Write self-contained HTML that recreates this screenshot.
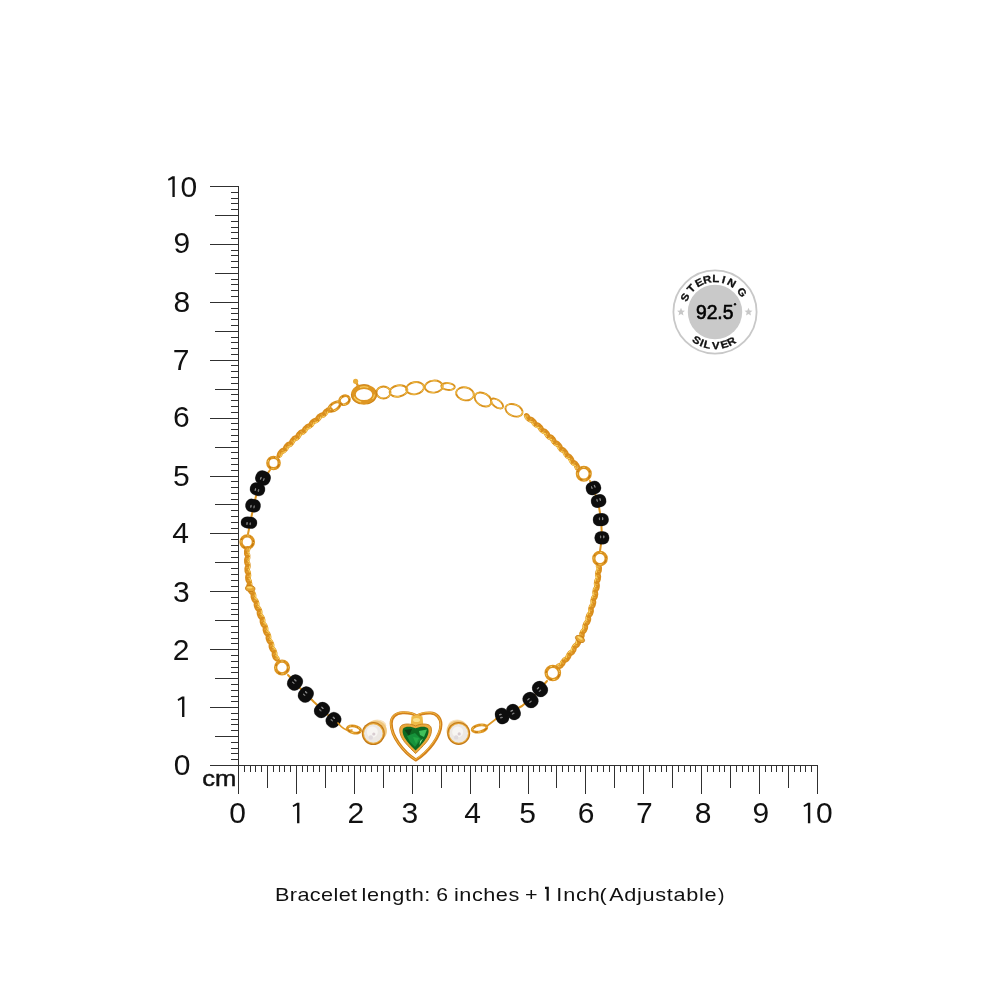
<!DOCTYPE html>
<html><head><meta charset="utf-8"><style>
html,body{margin:0;padding:0;background:#fff;}
body{width:1000px;height:1000px;overflow:hidden;font-family:"Liberation Sans",sans-serif;}
svg{display:block;will-change:transform;}
</style></head><body>
<svg width="1000" height="1000" viewBox="0 0 1000 1000">
<rect width="1000" height="1000" fill="#fff"/>
<g stroke="#303030" stroke-width="1" fill="none" shape-rendering="crispEdges"><line x1="238.5" y1="186.00" x2="238.5" y2="794.2" /><line x1="210" y1="765.5" x2="818.00" y2="765.5" /><line x1="210" y1="765.50" x2="238.5" y2="765.50" /><line x1="238.50" y1="765.5" x2="238.50" y2="794.2" /><line x1="231.2" y1="759.71" x2="238.5" y2="759.71" /><line x1="244.29" y1="765.5" x2="244.29" y2="772.1" /><line x1="231.2" y1="753.92" x2="238.5" y2="753.92" /><line x1="250.08" y1="765.5" x2="250.08" y2="772.1" /><line x1="231.2" y1="748.13" x2="238.5" y2="748.13" /><line x1="255.87" y1="765.5" x2="255.87" y2="772.1" /><line x1="231.2" y1="742.34" x2="238.5" y2="742.34" /><line x1="261.66" y1="765.5" x2="261.66" y2="772.1" /><line x1="215.3" y1="736.55" x2="238.5" y2="736.55" /><line x1="267.45" y1="765.5" x2="267.45" y2="788" /><line x1="231.2" y1="730.76" x2="238.5" y2="730.76" /><line x1="273.24" y1="765.5" x2="273.24" y2="772.1" /><line x1="231.2" y1="724.97" x2="238.5" y2="724.97" /><line x1="279.03" y1="765.5" x2="279.03" y2="772.1" /><line x1="231.2" y1="719.18" x2="238.5" y2="719.18" /><line x1="284.82" y1="765.5" x2="284.82" y2="772.1" /><line x1="231.2" y1="713.39" x2="238.5" y2="713.39" /><line x1="290.61" y1="765.5" x2="290.61" y2="772.1" /><line x1="210" y1="707.60" x2="238.5" y2="707.60" /><line x1="296.40" y1="765.5" x2="296.40" y2="794.2" /><line x1="231.2" y1="701.81" x2="238.5" y2="701.81" /><line x1="302.19" y1="765.5" x2="302.19" y2="772.1" /><line x1="231.2" y1="696.02" x2="238.5" y2="696.02" /><line x1="307.98" y1="765.5" x2="307.98" y2="772.1" /><line x1="231.2" y1="690.23" x2="238.5" y2="690.23" /><line x1="313.77" y1="765.5" x2="313.77" y2="772.1" /><line x1="231.2" y1="684.44" x2="238.5" y2="684.44" /><line x1="319.56" y1="765.5" x2="319.56" y2="772.1" /><line x1="215.3" y1="678.65" x2="238.5" y2="678.65" /><line x1="325.35" y1="765.5" x2="325.35" y2="788" /><line x1="231.2" y1="672.86" x2="238.5" y2="672.86" /><line x1="331.14" y1="765.5" x2="331.14" y2="772.1" /><line x1="231.2" y1="667.07" x2="238.5" y2="667.07" /><line x1="336.93" y1="765.5" x2="336.93" y2="772.1" /><line x1="231.2" y1="661.28" x2="238.5" y2="661.28" /><line x1="342.72" y1="765.5" x2="342.72" y2="772.1" /><line x1="231.2" y1="655.49" x2="238.5" y2="655.49" /><line x1="348.51" y1="765.5" x2="348.51" y2="772.1" /><line x1="210" y1="649.70" x2="238.5" y2="649.70" /><line x1="354.30" y1="765.5" x2="354.30" y2="794.2" /><line x1="231.2" y1="643.91" x2="238.5" y2="643.91" /><line x1="360.09" y1="765.5" x2="360.09" y2="772.1" /><line x1="231.2" y1="638.12" x2="238.5" y2="638.12" /><line x1="365.88" y1="765.5" x2="365.88" y2="772.1" /><line x1="231.2" y1="632.33" x2="238.5" y2="632.33" /><line x1="371.67" y1="765.5" x2="371.67" y2="772.1" /><line x1="231.2" y1="626.54" x2="238.5" y2="626.54" /><line x1="377.46" y1="765.5" x2="377.46" y2="772.1" /><line x1="215.3" y1="620.75" x2="238.5" y2="620.75" /><line x1="383.25" y1="765.5" x2="383.25" y2="788" /><line x1="231.2" y1="614.96" x2="238.5" y2="614.96" /><line x1="389.04" y1="765.5" x2="389.04" y2="772.1" /><line x1="231.2" y1="609.17" x2="238.5" y2="609.17" /><line x1="394.83" y1="765.5" x2="394.83" y2="772.1" /><line x1="231.2" y1="603.38" x2="238.5" y2="603.38" /><line x1="400.62" y1="765.5" x2="400.62" y2="772.1" /><line x1="231.2" y1="597.59" x2="238.5" y2="597.59" /><line x1="406.41" y1="765.5" x2="406.41" y2="772.1" /><line x1="210" y1="591.80" x2="238.5" y2="591.80" /><line x1="412.20" y1="765.5" x2="412.20" y2="794.2" /><line x1="231.2" y1="586.01" x2="238.5" y2="586.01" /><line x1="417.99" y1="765.5" x2="417.99" y2="772.1" /><line x1="231.2" y1="580.22" x2="238.5" y2="580.22" /><line x1="423.78" y1="765.5" x2="423.78" y2="772.1" /><line x1="231.2" y1="574.43" x2="238.5" y2="574.43" /><line x1="429.57" y1="765.5" x2="429.57" y2="772.1" /><line x1="231.2" y1="568.64" x2="238.5" y2="568.64" /><line x1="435.36" y1="765.5" x2="435.36" y2="772.1" /><line x1="215.3" y1="562.85" x2="238.5" y2="562.85" /><line x1="441.15" y1="765.5" x2="441.15" y2="788" /><line x1="231.2" y1="557.06" x2="238.5" y2="557.06" /><line x1="446.94" y1="765.5" x2="446.94" y2="772.1" /><line x1="231.2" y1="551.27" x2="238.5" y2="551.27" /><line x1="452.73" y1="765.5" x2="452.73" y2="772.1" /><line x1="231.2" y1="545.48" x2="238.5" y2="545.48" /><line x1="458.52" y1="765.5" x2="458.52" y2="772.1" /><line x1="231.2" y1="539.69" x2="238.5" y2="539.69" /><line x1="464.31" y1="765.5" x2="464.31" y2="772.1" /><line x1="210" y1="533.90" x2="238.5" y2="533.90" /><line x1="470.10" y1="765.5" x2="470.10" y2="794.2" /><line x1="231.2" y1="528.11" x2="238.5" y2="528.11" /><line x1="475.89" y1="765.5" x2="475.89" y2="772.1" /><line x1="231.2" y1="522.32" x2="238.5" y2="522.32" /><line x1="481.68" y1="765.5" x2="481.68" y2="772.1" /><line x1="231.2" y1="516.53" x2="238.5" y2="516.53" /><line x1="487.47" y1="765.5" x2="487.47" y2="772.1" /><line x1="231.2" y1="510.74" x2="238.5" y2="510.74" /><line x1="493.26" y1="765.5" x2="493.26" y2="772.1" /><line x1="215.3" y1="504.95" x2="238.5" y2="504.95" /><line x1="499.05" y1="765.5" x2="499.05" y2="788" /><line x1="231.2" y1="499.16" x2="238.5" y2="499.16" /><line x1="504.84" y1="765.5" x2="504.84" y2="772.1" /><line x1="231.2" y1="493.37" x2="238.5" y2="493.37" /><line x1="510.63" y1="765.5" x2="510.63" y2="772.1" /><line x1="231.2" y1="487.58" x2="238.5" y2="487.58" /><line x1="516.42" y1="765.5" x2="516.42" y2="772.1" /><line x1="231.2" y1="481.79" x2="238.5" y2="481.79" /><line x1="522.21" y1="765.5" x2="522.21" y2="772.1" /><line x1="210" y1="476.00" x2="238.5" y2="476.00" /><line x1="528.00" y1="765.5" x2="528.00" y2="794.2" /><line x1="231.2" y1="470.21" x2="238.5" y2="470.21" /><line x1="533.79" y1="765.5" x2="533.79" y2="772.1" /><line x1="231.2" y1="464.42" x2="238.5" y2="464.42" /><line x1="539.58" y1="765.5" x2="539.58" y2="772.1" /><line x1="231.2" y1="458.63" x2="238.5" y2="458.63" /><line x1="545.37" y1="765.5" x2="545.37" y2="772.1" /><line x1="231.2" y1="452.84" x2="238.5" y2="452.84" /><line x1="551.16" y1="765.5" x2="551.16" y2="772.1" /><line x1="215.3" y1="447.05" x2="238.5" y2="447.05" /><line x1="556.95" y1="765.5" x2="556.95" y2="788" /><line x1="231.2" y1="441.26" x2="238.5" y2="441.26" /><line x1="562.74" y1="765.5" x2="562.74" y2="772.1" /><line x1="231.2" y1="435.47" x2="238.5" y2="435.47" /><line x1="568.53" y1="765.5" x2="568.53" y2="772.1" /><line x1="231.2" y1="429.68" x2="238.5" y2="429.68" /><line x1="574.32" y1="765.5" x2="574.32" y2="772.1" /><line x1="231.2" y1="423.89" x2="238.5" y2="423.89" /><line x1="580.11" y1="765.5" x2="580.11" y2="772.1" /><line x1="210" y1="418.10" x2="238.5" y2="418.10" /><line x1="585.90" y1="765.5" x2="585.90" y2="794.2" /><line x1="231.2" y1="412.31" x2="238.5" y2="412.31" /><line x1="591.69" y1="765.5" x2="591.69" y2="772.1" /><line x1="231.2" y1="406.52" x2="238.5" y2="406.52" /><line x1="597.48" y1="765.5" x2="597.48" y2="772.1" /><line x1="231.2" y1="400.73" x2="238.5" y2="400.73" /><line x1="603.27" y1="765.5" x2="603.27" y2="772.1" /><line x1="231.2" y1="394.94" x2="238.5" y2="394.94" /><line x1="609.06" y1="765.5" x2="609.06" y2="772.1" /><line x1="215.3" y1="389.15" x2="238.5" y2="389.15" /><line x1="614.85" y1="765.5" x2="614.85" y2="788" /><line x1="231.2" y1="383.36" x2="238.5" y2="383.36" /><line x1="620.64" y1="765.5" x2="620.64" y2="772.1" /><line x1="231.2" y1="377.57" x2="238.5" y2="377.57" /><line x1="626.43" y1="765.5" x2="626.43" y2="772.1" /><line x1="231.2" y1="371.78" x2="238.5" y2="371.78" /><line x1="632.22" y1="765.5" x2="632.22" y2="772.1" /><line x1="231.2" y1="365.99" x2="238.5" y2="365.99" /><line x1="638.01" y1="765.5" x2="638.01" y2="772.1" /><line x1="210" y1="360.20" x2="238.5" y2="360.20" /><line x1="643.80" y1="765.5" x2="643.80" y2="794.2" /><line x1="231.2" y1="354.41" x2="238.5" y2="354.41" /><line x1="649.59" y1="765.5" x2="649.59" y2="772.1" /><line x1="231.2" y1="348.62" x2="238.5" y2="348.62" /><line x1="655.38" y1="765.5" x2="655.38" y2="772.1" /><line x1="231.2" y1="342.83" x2="238.5" y2="342.83" /><line x1="661.17" y1="765.5" x2="661.17" y2="772.1" /><line x1="231.2" y1="337.04" x2="238.5" y2="337.04" /><line x1="666.96" y1="765.5" x2="666.96" y2="772.1" /><line x1="215.3" y1="331.25" x2="238.5" y2="331.25" /><line x1="672.75" y1="765.5" x2="672.75" y2="788" /><line x1="231.2" y1="325.46" x2="238.5" y2="325.46" /><line x1="678.54" y1="765.5" x2="678.54" y2="772.1" /><line x1="231.2" y1="319.67" x2="238.5" y2="319.67" /><line x1="684.33" y1="765.5" x2="684.33" y2="772.1" /><line x1="231.2" y1="313.88" x2="238.5" y2="313.88" /><line x1="690.12" y1="765.5" x2="690.12" y2="772.1" /><line x1="231.2" y1="308.09" x2="238.5" y2="308.09" /><line x1="695.91" y1="765.5" x2="695.91" y2="772.1" /><line x1="210" y1="302.30" x2="238.5" y2="302.30" /><line x1="701.70" y1="765.5" x2="701.70" y2="794.2" /><line x1="231.2" y1="296.51" x2="238.5" y2="296.51" /><line x1="707.49" y1="765.5" x2="707.49" y2="772.1" /><line x1="231.2" y1="290.72" x2="238.5" y2="290.72" /><line x1="713.28" y1="765.5" x2="713.28" y2="772.1" /><line x1="231.2" y1="284.93" x2="238.5" y2="284.93" /><line x1="719.07" y1="765.5" x2="719.07" y2="772.1" /><line x1="231.2" y1="279.14" x2="238.5" y2="279.14" /><line x1="724.86" y1="765.5" x2="724.86" y2="772.1" /><line x1="215.3" y1="273.35" x2="238.5" y2="273.35" /><line x1="730.65" y1="765.5" x2="730.65" y2="788" /><line x1="231.2" y1="267.56" x2="238.5" y2="267.56" /><line x1="736.44" y1="765.5" x2="736.44" y2="772.1" /><line x1="231.2" y1="261.77" x2="238.5" y2="261.77" /><line x1="742.23" y1="765.5" x2="742.23" y2="772.1" /><line x1="231.2" y1="255.98" x2="238.5" y2="255.98" /><line x1="748.02" y1="765.5" x2="748.02" y2="772.1" /><line x1="231.2" y1="250.19" x2="238.5" y2="250.19" /><line x1="753.81" y1="765.5" x2="753.81" y2="772.1" /><line x1="210" y1="244.40" x2="238.5" y2="244.40" /><line x1="759.60" y1="765.5" x2="759.60" y2="794.2" /><line x1="231.2" y1="238.61" x2="238.5" y2="238.61" /><line x1="765.39" y1="765.5" x2="765.39" y2="772.1" /><line x1="231.2" y1="232.82" x2="238.5" y2="232.82" /><line x1="771.18" y1="765.5" x2="771.18" y2="772.1" /><line x1="231.2" y1="227.03" x2="238.5" y2="227.03" /><line x1="776.97" y1="765.5" x2="776.97" y2="772.1" /><line x1="231.2" y1="221.24" x2="238.5" y2="221.24" /><line x1="782.76" y1="765.5" x2="782.76" y2="772.1" /><line x1="215.3" y1="215.45" x2="238.5" y2="215.45" /><line x1="788.55" y1="765.5" x2="788.55" y2="788" /><line x1="231.2" y1="209.66" x2="238.5" y2="209.66" /><line x1="794.34" y1="765.5" x2="794.34" y2="772.1" /><line x1="231.2" y1="203.87" x2="238.5" y2="203.87" /><line x1="800.13" y1="765.5" x2="800.13" y2="772.1" /><line x1="231.2" y1="198.08" x2="238.5" y2="198.08" /><line x1="805.92" y1="765.5" x2="805.92" y2="772.1" /><line x1="231.2" y1="192.29" x2="238.5" y2="192.29" /><line x1="811.71" y1="765.5" x2="811.71" y2="772.1" /><line x1="210" y1="186.50" x2="238.5" y2="186.50" /><line x1="817.50" y1="765.5" x2="817.50" y2="794.2" /></g>
<g font-family="Liberation Sans, sans-serif" font-size="30" fill="#111"><text x="229.15" y="823.30">0</text><text x="173.65" y="775.30">0</text><path d="M 297.05,802.70 L 299.40,802.70 L 299.40,823.30 L 297.05,823.30 L 297.05,805.30 L 293.20,807.10 L 292.60,805.50 Z" fill="#111"/><path d="M 182.05,696.50 L 184.40,696.50 L 184.40,717.10 L 182.05,717.10 L 182.05,699.10 L 178.20,700.90 L 177.60,699.30 Z" fill="#111"/><text x="347.55" y="823.45">2</text><text x="172.65" y="659.75">2</text><text x="401.50" y="823.30">3</text><text x="173.10" y="601.80">3</text><text x="464.15" y="823.30">4</text><text x="172.35" y="543.30">4</text><text x="519.30" y="823.15">5</text><text x="173.10" y="485.95">5</text><text x="577.65" y="823.30">6</text><text x="172.95" y="427.20">6</text><text x="635.95" y="823.30">7</text><text x="172.65" y="370.20">7</text><text x="694.75" y="823.30">8</text><text x="173.40" y="312.30">8</text><text x="752.55" y="823.30">9</text><text x="173.40" y="253.30">9</text><path d="M 807.90,802.70 L 810.25,802.70 L 810.25,823.30 L 807.90,823.30 L 807.90,805.30 L 804.05,807.10 L 803.45,805.50 Z" fill="#111"/><text x="816.05" y="823.30">0</text><path d="M 172.40,176.30 L 174.75,176.30 L 174.75,196.90 L 172.40,196.90 L 172.40,178.90 L 168.55,180.70 L 167.95,179.10 Z" fill="#111"/><text x="180.55" y="196.90">0</text></g>
<text x="202.15" y="785.8" font-family="Liberation Sans, sans-serif" font-size="22" fill="#111" stroke="#111" stroke-width="0.45" textLength="34.1" lengthAdjust="spacingAndGlyphs">cm</text>
<g font-family="Liberation Sans, sans-serif" font-size="18.7" fill="#111"><text transform="translate(275.01 900.8) scale(1.160 1)" x="0" y="0" letter-spacing="0.31">Bracelet</text><text transform="translate(361.49 900.8) scale(1.160 1)" x="0" y="0" letter-spacing="0.54">length:</text><text transform="translate(436.37 900.8) scale(1.134 1)" x="0" y="0" letter-spacing="0.00">6</text><text transform="translate(453.99 900.8) scale(1.160 1)" x="0" y="0" letter-spacing="0.44">inches</text><text transform="translate(524.98 900.8) scale(1.150 1)" x="0" y="0" letter-spacing="0.00">+</text><path d="M 545.0,886.7 L 548.8,886.7 L 548.8,900.8 L 546.6,900.8 L 546.6,888.9 L 545.0,888.9 Z" fill="#111"/><text transform="translate(556.28 900.8) scale(1.160 1)" x="0" y="0" letter-spacing="0.71">Inch</text><text transform="translate(599.60 900.8) scale(1.150 1)" x="0" y="0" letter-spacing="0.00">(</text><text transform="translate(609.18 900.8) scale(1.160 1)" x="0" y="0" letter-spacing="0.58">Adjustable</text><text transform="translate(717.99 900.8) scale(1.041 1)" x="0" y="0" letter-spacing="0.00">)</text></g>
<g><circle cx="715" cy="312" r="41.6" fill="#fff" stroke="#c8c8c8" stroke-width="1.8"/><circle cx="715" cy="312" r="27.2" fill="#c9c9c9"/><text transform="translate(684.97 297.16) rotate(-63.7) scale(1.1 1)" x="0" y="3.65" text-anchor="middle" font-family="Liberation Sans, sans-serif" font-weight="bold" font-size="10.4" fill="#111" stroke="#111" stroke-width="0.3">S</text><text transform="translate(691.11 288.52) rotate(-45.5) scale(1.1 1)" x="0" y="3.65" text-anchor="middle" font-family="Liberation Sans, sans-serif" font-weight="bold" font-size="10.4" fill="#111" stroke="#111" stroke-width="0.3">T</text><text transform="translate(699.02 282.56) rotate(-28.5) scale(1.1 1)" x="0" y="3.65" text-anchor="middle" font-family="Liberation Sans, sans-serif" font-weight="bold" font-size="10.4" fill="#111" stroke="#111" stroke-width="0.3">E</text><text transform="translate(707.18 279.43) rotate(-13.5) scale(1.1 1)" x="0" y="3.65" text-anchor="middle" font-family="Liberation Sans, sans-serif" font-weight="bold" font-size="10.4" fill="#111" stroke="#111" stroke-width="0.3">R</text><text transform="translate(715.82 278.51) rotate(1.4) scale(1.1 1)" x="0" y="3.65" text-anchor="middle" font-family="Liberation Sans, sans-serif" font-weight="bold" font-size="10.4" fill="#111" stroke="#111" stroke-width="0.3">L</text><text transform="translate(723.67 279.64) rotate(15.0) scale(1.1 1)" x="0" y="3.65" text-anchor="middle" font-family="Liberation Sans, sans-serif" font-weight="bold" font-size="10.4" fill="#111" stroke="#111" stroke-width="0.3">I</text><text transform="translate(731.60 282.90) rotate(29.7) scale(1.1 1)" x="0" y="3.65" text-anchor="middle" font-family="Liberation Sans, sans-serif" font-weight="bold" font-size="10.4" fill="#111" stroke="#111" stroke-width="0.3">N</text><text transform="translate(742.10 292.31) rotate(54.0) scale(1.1 1)" x="0" y="3.65" text-anchor="middle" font-family="Liberation Sans, sans-serif" font-weight="bold" font-size="10.4" fill="#111" stroke="#111" stroke-width="0.3">G</text><text transform="translate(696.61 340.00) rotate(33.3) scale(1.1 1)" x="0" y="3.65" text-anchor="middle" font-family="Liberation Sans, sans-serif" font-weight="bold" font-size="10.4" fill="#111" stroke="#111" stroke-width="0.3">S</text><text transform="translate(701.91 342.84) rotate(23.0) scale(1.1 1)" x="0" y="3.65" text-anchor="middle" font-family="Liberation Sans, sans-serif" font-weight="bold" font-size="10.4" fill="#111" stroke="#111" stroke-width="0.3">I</text><text transform="translate(707.24 344.59) rotate(13.4) scale(1.1 1)" x="0" y="3.65" text-anchor="middle" font-family="Liberation Sans, sans-serif" font-weight="bold" font-size="10.4" fill="#111" stroke="#111" stroke-width="0.3">L</text><text transform="translate(715.76 345.49) rotate(-1.3) scale(1.1 1)" x="0" y="3.65" text-anchor="middle" font-family="Liberation Sans, sans-serif" font-weight="bold" font-size="10.4" fill="#111" stroke="#111" stroke-width="0.3">V</text><text transform="translate(724.46 344.14) rotate(-16.4) scale(1.1 1)" x="0" y="3.65" text-anchor="middle" font-family="Liberation Sans, sans-serif" font-weight="bold" font-size="10.4" fill="#111" stroke="#111" stroke-width="0.3">E</text><text transform="translate(731.24 341.30) rotate(-29.0) scale(1.1 1)" x="0" y="3.65" text-anchor="middle" font-family="Liberation Sans, sans-serif" font-weight="bold" font-size="10.4" fill="#111" stroke="#111" stroke-width="0.3">R</text><text x="714.7" y="318.7" text-anchor="middle" font-family="Liberation Sans, sans-serif" font-size="19.3" fill="#000" stroke="#000" stroke-width="0.6">92.5</text><circle cx="735" cy="304.3" r="1.2" fill="#111"/><polygon points="681.00,307.80 682.11,310.47 684.99,310.70 682.80,312.58 683.47,315.40 681.00,313.89 678.53,315.40 679.20,312.58 677.01,310.70 679.89,310.47" fill="#c8c8c8"/><polygon points="748.50,307.80 749.61,310.47 752.49,310.70 750.30,312.58 750.97,315.40 748.50,313.89 746.03,315.40 746.70,312.58 744.51,310.70 747.39,310.47" fill="#c8c8c8"/></g>
<defs><filter id="soft" x="-5%" y="-5%" width="110%" height="110%"><feGaussianBlur stdDeviation="0.35"/></filter></defs><g filter="url(#soft)"><path d="M 329,410 Q 304,428 278,456" fill="none" stroke="#e7aa3c" stroke-width="3.0" stroke-linecap="round"/><g transform="translate(329.00 410.00) rotate(165.8)"><ellipse rx="3.1" ry="2.0" fill="none" stroke="#d98e1e" stroke-width="1.85"/><path d="M -2.5,-1.4 Q 0,-2.8 2.5,-1.4" fill="none" stroke="#fdd865" stroke-width="1.0"/></g><g transform="translate(325.45 412.60) rotate(121.3)"><ellipse rx="3.1" ry="2.0" fill="none" stroke="#d98e1e" stroke-width="1.85"/><path d="M -2.5,-1.4 Q 0,-2.8 2.5,-1.4" fill="none" stroke="#fdd865" stroke-width="1.0"/></g><g transform="translate(321.95 415.26) rotate(164.3)"><ellipse rx="3.1" ry="2.0" fill="none" stroke="#d98e1e" stroke-width="1.85"/><path d="M -2.5,-1.4 Q 0,-2.8 2.5,-1.4" fill="none" stroke="#fdd865" stroke-width="1.0"/></g><g transform="translate(318.49 417.98) rotate(119.4)"><ellipse rx="3.1" ry="2.0" fill="none" stroke="#d98e1e" stroke-width="1.85"/><path d="M -2.5,-1.4 Q 0,-2.8 2.5,-1.4" fill="none" stroke="#fdd865" stroke-width="1.0"/></g><g transform="translate(315.07 420.75) rotate(162.6)"><ellipse rx="3.1" ry="2.0" fill="none" stroke="#d98e1e" stroke-width="1.85"/><path d="M -2.5,-1.4 Q 0,-2.8 2.5,-1.4" fill="none" stroke="#fdd865" stroke-width="1.0"/></g><g transform="translate(311.69 423.56) rotate(117.8)"><ellipse rx="3.1" ry="2.0" fill="none" stroke="#d98e1e" stroke-width="1.85"/><path d="M -2.5,-1.4 Q 0,-2.8 2.5,-1.4" fill="none" stroke="#fdd865" stroke-width="1.0"/></g><g transform="translate(308.35 426.43) rotate(161.0)"><ellipse rx="3.1" ry="2.0" fill="none" stroke="#d98e1e" stroke-width="1.85"/><path d="M -2.5,-1.4 Q 0,-2.8 2.5,-1.4" fill="none" stroke="#fdd865" stroke-width="1.0"/></g><g transform="translate(305.05 429.34) rotate(116.2)"><ellipse rx="3.1" ry="2.0" fill="none" stroke="#d98e1e" stroke-width="1.85"/><path d="M -2.5,-1.4 Q 0,-2.8 2.5,-1.4" fill="none" stroke="#fdd865" stroke-width="1.0"/></g><g transform="translate(301.78 432.29) rotate(159.5)"><ellipse rx="3.1" ry="2.0" fill="none" stroke="#d98e1e" stroke-width="1.85"/><path d="M -2.5,-1.4 Q 0,-2.8 2.5,-1.4" fill="none" stroke="#fdd865" stroke-width="1.0"/></g><g transform="translate(298.55 435.28) rotate(114.8)"><ellipse rx="3.1" ry="2.0" fill="none" stroke="#d98e1e" stroke-width="1.85"/><path d="M -2.5,-1.4 Q 0,-2.8 2.5,-1.4" fill="none" stroke="#fdd865" stroke-width="1.0"/></g><g transform="translate(295.36 438.31) rotate(158.2)"><ellipse rx="3.1" ry="2.0" fill="none" stroke="#d98e1e" stroke-width="1.85"/><path d="M -2.5,-1.4 Q 0,-2.8 2.5,-1.4" fill="none" stroke="#fdd865" stroke-width="1.0"/></g><g transform="translate(292.21 441.37) rotate(113.5)"><ellipse rx="3.1" ry="2.0" fill="none" stroke="#d98e1e" stroke-width="1.85"/><path d="M -2.5,-1.4 Q 0,-2.8 2.5,-1.4" fill="none" stroke="#fdd865" stroke-width="1.0"/></g><g transform="translate(289.08 444.47) rotate(156.9)"><ellipse rx="3.1" ry="2.0" fill="none" stroke="#d98e1e" stroke-width="1.85"/><path d="M -2.5,-1.4 Q 0,-2.8 2.5,-1.4" fill="none" stroke="#fdd865" stroke-width="1.0"/></g><g transform="translate(285.99 447.60) rotate(112.3)"><ellipse rx="3.1" ry="2.0" fill="none" stroke="#d98e1e" stroke-width="1.85"/><path d="M -2.5,-1.4 Q 0,-2.8 2.5,-1.4" fill="none" stroke="#fdd865" stroke-width="1.0"/></g><g transform="translate(282.93 450.77) rotate(155.8)"><ellipse rx="3.1" ry="2.0" fill="none" stroke="#d98e1e" stroke-width="1.85"/><path d="M -2.5,-1.4 Q 0,-2.8 2.5,-1.4" fill="none" stroke="#fdd865" stroke-width="1.0"/></g><g transform="translate(279.91 453.96) rotate(111.5)"><ellipse rx="3.1" ry="2.0" fill="none" stroke="#d98e1e" stroke-width="1.85"/><path d="M -2.5,-1.4 Q 0,-2.8 2.5,-1.4" fill="none" stroke="#fdd865" stroke-width="1.0"/></g><ellipse cx="273.5" cy="463" rx="5.7" ry="5.7" transform="rotate(0 273.5 463)" fill="none" stroke="#de9622" stroke-width="3.3"/><ellipse cx="273.5" cy="463" rx="5.7" ry="5.7" transform="rotate(0 273.5 463)" fill="none" stroke="#c0740e" stroke-width="1.15" stroke-dasharray="5 4"/><ellipse cx="273.5" cy="463" rx="5.7" ry="5.7" transform="rotate(0 273.5 463)" fill="none" stroke="#fad366" stroke-width="0.99" stroke-dasharray="3 7" stroke-dashoffset="2"/><path d="M 270,470 L 262,482 L 256,496 L 252,514 L 248,534" fill="none" stroke="#de9622" stroke-width="2" stroke-linecap="round" stroke-linejoin="round"/><g transform="translate(263 478) rotate(-65)"><rect x="-7.30" y="-7.80" width="14.60" height="15.60" rx="6.58" ry="6.30" fill="#2a2a2a" opacity="0.5"/><rect x="-7.00" y="-7.50" width="14" height="15" rx="6.44" ry="6.00" fill="#080808"/><ellipse cx="-1.12" cy="-1.9" rx="1.6" ry="0.75" fill="#8c8c8c"/><ellipse cx="-1.12" cy="1.3" rx="1.6" ry="0.75" fill="#7a7a7a"/></g><g transform="translate(257.5 489.2) rotate(-75)"><rect x="-6.55" y="-7.80" width="13.10" height="15.60" rx="5.88" ry="6.30" fill="#2a2a2a" opacity="0.5"/><rect x="-6.25" y="-7.50" width="12.5" height="15" rx="5.75" ry="6.00" fill="#080808"/><ellipse cx="-1.00" cy="-1.9" rx="1.6" ry="0.75" fill="#8c8c8c"/><ellipse cx="-1.00" cy="1.3" rx="1.6" ry="0.75" fill="#7a7a7a"/></g><g transform="translate(253 505.6) rotate(-80)"><rect x="-6.80" y="-7.80" width="13.60" height="15.60" rx="6.11" ry="6.30" fill="#2a2a2a" opacity="0.5"/><rect x="-6.50" y="-7.50" width="13" height="15" rx="5.98" ry="6.00" fill="#080808"/><ellipse cx="-1.04" cy="-1.9" rx="1.6" ry="0.75" fill="#8c8c8c"/><ellipse cx="-1.04" cy="1.3" rx="1.6" ry="0.75" fill="#7a7a7a"/></g><g transform="translate(249 522.7) rotate(-85)"><rect x="-6.05" y="-8.30" width="12.10" height="16.60" rx="5.40" ry="6.72" fill="#2a2a2a" opacity="0.5"/><rect x="-5.75" y="-8.00" width="11.5" height="16" rx="5.29" ry="6.40" fill="#080808"/><ellipse cx="-0.92" cy="-1.9" rx="1.6" ry="0.75" fill="#8c8c8c"/><ellipse cx="-0.92" cy="1.3" rx="1.6" ry="0.75" fill="#7a7a7a"/></g><ellipse cx="247.2" cy="542" rx="6.2" ry="6.2" transform="rotate(0 247.2 542)" fill="none" stroke="#de9622" stroke-width="3.3"/><ellipse cx="247.2" cy="542" rx="6.2" ry="6.2" transform="rotate(0 247.2 542)" fill="none" stroke="#c0740e" stroke-width="1.15" stroke-dasharray="5 4"/><ellipse cx="247.2" cy="542" rx="6.2" ry="6.2" transform="rotate(0 247.2 542)" fill="none" stroke="#fad366" stroke-width="0.99" stroke-dasharray="3 7" stroke-dashoffset="2"/><path d="M 247.2,550 Q 247,575 250,588" fill="none" stroke="#e7aa3c" stroke-width="3.0" stroke-linecap="round"/><g transform="translate(247.20 550.00) rotate(112.1)"><ellipse rx="3.1" ry="2.0" fill="none" stroke="#d98e1e" stroke-width="1.85"/><path d="M -2.5,-1.4 Q 0,-2.8 2.5,-1.4" fill="none" stroke="#fdd865" stroke-width="1.0"/></g><g transform="translate(247.19 554.40) rotate(67.8)"><ellipse rx="3.1" ry="2.0" fill="none" stroke="#d98e1e" stroke-width="1.85"/><path d="M -2.5,-1.4 Q 0,-2.8 2.5,-1.4" fill="none" stroke="#fdd865" stroke-width="1.0"/></g><g transform="translate(247.23 558.80) rotate(111.0)"><ellipse rx="3.1" ry="2.0" fill="none" stroke="#d98e1e" stroke-width="1.85"/><path d="M -2.5,-1.4 Q 0,-2.8 2.5,-1.4" fill="none" stroke="#fdd865" stroke-width="1.0"/></g><g transform="translate(247.34 563.20) rotate(66.1)"><ellipse rx="3.1" ry="2.0" fill="none" stroke="#d98e1e" stroke-width="1.85"/><path d="M -2.5,-1.4 Q 0,-2.8 2.5,-1.4" fill="none" stroke="#fdd865" stroke-width="1.0"/></g><g transform="translate(247.53 567.59) rotate(109.0)"><ellipse rx="3.1" ry="2.0" fill="none" stroke="#d98e1e" stroke-width="1.85"/><path d="M -2.5,-1.4 Q 0,-2.8 2.5,-1.4" fill="none" stroke="#fdd865" stroke-width="1.0"/></g><g transform="translate(247.80 571.99) rotate(63.7)"><ellipse rx="3.1" ry="2.0" fill="none" stroke="#d98e1e" stroke-width="1.85"/><path d="M -2.5,-1.4 Q 0,-2.8 2.5,-1.4" fill="none" stroke="#fdd865" stroke-width="1.0"/></g><g transform="translate(248.18 576.37) rotate(106.1)"><ellipse rx="3.1" ry="2.0" fill="none" stroke="#d98e1e" stroke-width="1.85"/><path d="M -2.5,-1.4 Q 0,-2.8 2.5,-1.4" fill="none" stroke="#fdd865" stroke-width="1.0"/></g><g transform="translate(248.70 580.74) rotate(60.1)"><ellipse rx="3.1" ry="2.0" fill="none" stroke="#d98e1e" stroke-width="1.85"/><path d="M -2.5,-1.4 Q 0,-2.8 2.5,-1.4" fill="none" stroke="#fdd865" stroke-width="1.0"/></g><g transform="translate(249.39 585.08) rotate(102.9)"><ellipse rx="3.1" ry="2.0" fill="none" stroke="#d98e1e" stroke-width="1.85"/><path d="M -2.5,-1.4 Q 0,-2.8 2.5,-1.4" fill="none" stroke="#fdd865" stroke-width="1.0"/></g><path d="M 250,588 C 255,598 266,632 276.5,659" fill="none" stroke="#e7aa3c" stroke-width="3.0" stroke-linecap="round"/><g transform="translate(250.00 588.00) rotate(87.7)"><ellipse rx="3.1" ry="2.0" fill="none" stroke="#d98e1e" stroke-width="1.85"/><path d="M -2.5,-1.4 Q 0,-2.8 2.5,-1.4" fill="none" stroke="#fdd865" stroke-width="1.0"/></g><g transform="translate(251.81 592.01) rotate(44.9)"><ellipse rx="3.1" ry="2.0" fill="none" stroke="#d98e1e" stroke-width="1.85"/><path d="M -2.5,-1.4 Q 0,-2.8 2.5,-1.4" fill="none" stroke="#fdd865" stroke-width="1.0"/></g><g transform="translate(253.46 596.09) rotate(90.5)"><ellipse rx="3.1" ry="2.0" fill="none" stroke="#d98e1e" stroke-width="1.85"/><path d="M -2.5,-1.4 Q 0,-2.8 2.5,-1.4" fill="none" stroke="#fdd865" stroke-width="1.0"/></g><g transform="translate(255.03 600.20) rotate(47.3)"><ellipse rx="3.1" ry="2.0" fill="none" stroke="#d98e1e" stroke-width="1.85"/><path d="M -2.5,-1.4 Q 0,-2.8 2.5,-1.4" fill="none" stroke="#fdd865" stroke-width="1.0"/></g><g transform="translate(256.56 604.32) rotate(91.8)"><ellipse rx="3.1" ry="2.0" fill="none" stroke="#d98e1e" stroke-width="1.85"/><path d="M -2.5,-1.4 Q 0,-2.8 2.5,-1.4" fill="none" stroke="#fdd865" stroke-width="1.0"/></g><g transform="translate(258.07 608.46) rotate(48.1)"><ellipse rx="3.1" ry="2.0" fill="none" stroke="#d98e1e" stroke-width="1.85"/><path d="M -2.5,-1.4 Q 0,-2.8 2.5,-1.4" fill="none" stroke="#fdd865" stroke-width="1.0"/></g><g transform="translate(259.57 612.59) rotate(92.2)"><ellipse rx="3.1" ry="2.0" fill="none" stroke="#d98e1e" stroke-width="1.85"/><path d="M -2.5,-1.4 Q 0,-2.8 2.5,-1.4" fill="none" stroke="#fdd865" stroke-width="1.0"/></g><g transform="translate(261.05 616.74) rotate(48.3)"><ellipse rx="3.1" ry="2.0" fill="none" stroke="#d98e1e" stroke-width="1.85"/><path d="M -2.5,-1.4 Q 0,-2.8 2.5,-1.4" fill="none" stroke="#fdd865" stroke-width="1.0"/></g><g transform="translate(262.53 620.88) rotate(92.4)"><ellipse rx="3.1" ry="2.0" fill="none" stroke="#d98e1e" stroke-width="1.85"/><path d="M -2.5,-1.4 Q 0,-2.8 2.5,-1.4" fill="none" stroke="#fdd865" stroke-width="1.0"/></g><g transform="translate(264.01 625.03) rotate(48.4)"><ellipse rx="3.1" ry="2.0" fill="none" stroke="#d98e1e" stroke-width="1.85"/><path d="M -2.5,-1.4 Q 0,-2.8 2.5,-1.4" fill="none" stroke="#fdd865" stroke-width="1.0"/></g><g transform="translate(265.49 629.17) rotate(92.3)"><ellipse rx="3.1" ry="2.0" fill="none" stroke="#d98e1e" stroke-width="1.85"/><path d="M -2.5,-1.4 Q 0,-2.8 2.5,-1.4" fill="none" stroke="#fdd865" stroke-width="1.0"/></g><g transform="translate(266.97 633.31) rotate(48.2)"><ellipse rx="3.1" ry="2.0" fill="none" stroke="#d98e1e" stroke-width="1.85"/><path d="M -2.5,-1.4 Q 0,-2.8 2.5,-1.4" fill="none" stroke="#fdd865" stroke-width="1.0"/></g><g transform="translate(268.46 637.45) rotate(92.1)"><ellipse rx="3.1" ry="2.0" fill="none" stroke="#d98e1e" stroke-width="1.85"/><path d="M -2.5,-1.4 Q 0,-2.8 2.5,-1.4" fill="none" stroke="#fdd865" stroke-width="1.0"/></g><g transform="translate(269.96 641.59) rotate(47.9)"><ellipse rx="3.1" ry="2.0" fill="none" stroke="#d98e1e" stroke-width="1.85"/><path d="M -2.5,-1.4 Q 0,-2.8 2.5,-1.4" fill="none" stroke="#fdd865" stroke-width="1.0"/></g><g transform="translate(271.48 645.72) rotate(91.7)"><ellipse rx="3.1" ry="2.0" fill="none" stroke="#d98e1e" stroke-width="1.85"/><path d="M -2.5,-1.4 Q 0,-2.8 2.5,-1.4" fill="none" stroke="#fdd865" stroke-width="1.0"/></g><g transform="translate(273.01 649.84) rotate(47.5)"><ellipse rx="3.1" ry="2.0" fill="none" stroke="#d98e1e" stroke-width="1.85"/><path d="M -2.5,-1.4 Q 0,-2.8 2.5,-1.4" fill="none" stroke="#fdd865" stroke-width="1.0"/></g><g transform="translate(274.56 653.96) rotate(91.2)"><ellipse rx="3.1" ry="2.0" fill="none" stroke="#d98e1e" stroke-width="1.85"/><path d="M -2.5,-1.4 Q 0,-2.8 2.5,-1.4" fill="none" stroke="#fdd865" stroke-width="1.0"/></g><g transform="translate(276.14 658.07) rotate(47.0)"><ellipse rx="3.1" ry="2.0" fill="none" stroke="#d98e1e" stroke-width="1.85"/><path d="M -2.5,-1.4 Q 0,-2.8 2.5,-1.4" fill="none" stroke="#fdd865" stroke-width="1.0"/></g><ellipse cx="250.2" cy="588.5" rx="4.8" ry="3" transform="rotate(8 250.2 588.5)" fill="#e8a632" stroke="#c0740e" stroke-width="0.7"/><ellipse cx="249.8" cy="587.6" rx="2.8" ry="1" fill="#fbd870"/><ellipse cx="282" cy="667.5" rx="6.4" ry="6.4" transform="rotate(0 282 667.5)" fill="none" stroke="#de9622" stroke-width="3.3"/><ellipse cx="282" cy="667.5" rx="6.4" ry="6.4" transform="rotate(0 282 667.5)" fill="none" stroke="#c0740e" stroke-width="1.15" stroke-dasharray="5 4"/><ellipse cx="282" cy="667.5" rx="6.4" ry="6.4" transform="rotate(0 282 667.5)" fill="none" stroke="#fad366" stroke-width="0.99" stroke-dasharray="3 7" stroke-dashoffset="2"/><path d="M 288,675 L 300,688 L 314,702 L 328,715 L 339,723" fill="none" stroke="#de9622" stroke-width="2" stroke-linecap="round" stroke-linejoin="round"/><g transform="translate(295 682.5) rotate(40)"><rect x="-7.30" y="-8.30" width="14.60" height="16.60" rx="6.58" ry="6.72" fill="#2a2a2a" opacity="0.5"/><rect x="-7.00" y="-8.00" width="14" height="16" rx="6.44" ry="6.40" fill="#080808"/><ellipse cx="-1.12" cy="-1.9" rx="1.6" ry="0.75" fill="#8c8c8c"/><ellipse cx="-1.12" cy="1.3" rx="1.6" ry="0.75" fill="#7a7a7a"/></g><g transform="translate(305.8 694.5) rotate(40)"><rect x="-7.30" y="-8.30" width="14.60" height="16.60" rx="6.58" ry="6.72" fill="#2a2a2a" opacity="0.5"/><rect x="-7.00" y="-8.00" width="14" height="16" rx="6.44" ry="6.40" fill="#080808"/><ellipse cx="-1.12" cy="-1.9" rx="1.6" ry="0.75" fill="#8c8c8c"/><ellipse cx="-1.12" cy="1.3" rx="1.6" ry="0.75" fill="#7a7a7a"/></g><g transform="translate(322 710) rotate(42)"><rect x="-7.30" y="-8.30" width="14.60" height="16.60" rx="6.58" ry="6.72" fill="#2a2a2a" opacity="0.5"/><rect x="-7.00" y="-8.00" width="14" height="16" rx="6.44" ry="6.40" fill="#080808"/><ellipse cx="-1.12" cy="-1.9" rx="1.6" ry="0.75" fill="#8c8c8c"/><ellipse cx="-1.12" cy="1.3" rx="1.6" ry="0.75" fill="#7a7a7a"/></g><g transform="translate(333.5 720) rotate(40)"><rect x="-7.30" y="-8.05" width="14.60" height="16.10" rx="6.58" ry="6.51" fill="#2a2a2a" opacity="0.5"/><rect x="-7.00" y="-7.75" width="14" height="15.5" rx="6.44" ry="6.20" fill="#080808"/><ellipse cx="-1.12" cy="-1.9" rx="1.6" ry="0.75" fill="#8c8c8c"/><ellipse cx="-1.12" cy="1.3" rx="1.6" ry="0.75" fill="#7a7a7a"/></g><path d="M 338,723 Q 345,732 352,730" fill="none" stroke="#de9622" stroke-width="1.6" stroke-linecap="round" stroke-linejoin="round"/><ellipse cx="354" cy="729.5" rx="6.8" ry="3.4" transform="rotate(12 354 729.5)" fill="none" stroke="#de9622" stroke-width="2.8"/><ellipse cx="354" cy="729.5" rx="6.8" ry="3.4" transform="rotate(12 354 729.5)" fill="none" stroke="#c0740e" stroke-width="0.98" stroke-dasharray="5 4"/><ellipse cx="354" cy="729.5" rx="6.8" ry="3.4" transform="rotate(12 354 729.5)" fill="none" stroke="#fad366" stroke-width="0.84" stroke-dasharray="3 7" stroke-dashoffset="2"/><ellipse cx="479.5" cy="728.5" rx="7.5" ry="3.4" transform="rotate(-12 479.5 728.5)" fill="none" stroke="#de9622" stroke-width="2.8"/><ellipse cx="479.5" cy="728.5" rx="7.5" ry="3.4" transform="rotate(-12 479.5 728.5)" fill="none" stroke="#c0740e" stroke-width="0.98" stroke-dasharray="5 4"/><ellipse cx="479.5" cy="728.5" rx="7.5" ry="3.4" transform="rotate(-12 479.5 728.5)" fill="none" stroke="#fad366" stroke-width="0.84" stroke-dasharray="3 7" stroke-dashoffset="2"/><path d="M 487,726 L 496,719" fill="none" stroke="#de9622" stroke-width="1.6" stroke-linecap="round" stroke-linejoin="round"/><path d="M 496,719 L 507,714 L 522,706 L 535,695 L 547,681" fill="none" stroke="#de9622" stroke-width="2" stroke-linecap="round" stroke-linejoin="round"/><g transform="translate(502 716) rotate(-20)"><rect x="-6.80" y="-8.30" width="13.60" height="16.60" rx="6.11" ry="6.72" fill="#2a2a2a" opacity="0.5"/><rect x="-6.50" y="-8.00" width="13" height="16" rx="5.98" ry="6.40" fill="#080808"/><ellipse cx="-1.04" cy="-1.9" rx="1.6" ry="0.75" fill="#8c8c8c"/><ellipse cx="-1.04" cy="1.3" rx="1.6" ry="0.75" fill="#7a7a7a"/></g><g transform="translate(513.5 712) rotate(-25)"><rect x="-6.80" y="-8.30" width="13.60" height="16.60" rx="6.11" ry="6.72" fill="#2a2a2a" opacity="0.5"/><rect x="-6.50" y="-8.00" width="13" height="16" rx="5.98" ry="6.40" fill="#080808"/><ellipse cx="-1.04" cy="-1.9" rx="1.6" ry="0.75" fill="#8c8c8c"/><ellipse cx="-1.04" cy="1.3" rx="1.6" ry="0.75" fill="#7a7a7a"/></g><g transform="translate(530.5 700) rotate(-40)"><rect x="-7.30" y="-8.30" width="14.60" height="16.60" rx="6.58" ry="6.72" fill="#2a2a2a" opacity="0.5"/><rect x="-7.00" y="-8.00" width="14" height="16" rx="6.44" ry="6.40" fill="#080808"/><ellipse cx="-1.12" cy="-1.9" rx="1.6" ry="0.75" fill="#8c8c8c"/><ellipse cx="-1.12" cy="1.3" rx="1.6" ry="0.75" fill="#7a7a7a"/></g><g transform="translate(540 689) rotate(-40)"><rect x="-7.30" y="-8.30" width="14.60" height="16.60" rx="6.58" ry="6.72" fill="#2a2a2a" opacity="0.5"/><rect x="-7.00" y="-8.00" width="14" height="16" rx="6.44" ry="6.40" fill="#080808"/><ellipse cx="-1.12" cy="-1.9" rx="1.6" ry="0.75" fill="#8c8c8c"/><ellipse cx="-1.12" cy="1.3" rx="1.6" ry="0.75" fill="#7a7a7a"/></g><ellipse cx="552.8" cy="673" rx="6.7" ry="6.7" transform="rotate(0 552.8 673)" fill="none" stroke="#de9622" stroke-width="3.3"/><ellipse cx="552.8" cy="673" rx="6.7" ry="6.7" transform="rotate(0 552.8 673)" fill="none" stroke="#c0740e" stroke-width="1.15" stroke-dasharray="5 4"/><ellipse cx="552.8" cy="673" rx="6.7" ry="6.7" transform="rotate(0 552.8 673)" fill="none" stroke="#fad366" stroke-width="0.99" stroke-dasharray="3 7" stroke-dashoffset="2"/><path d="M 559.6,666 Q 571,655 580,639" fill="none" stroke="#e7aa3c" stroke-width="3.0" stroke-linecap="round"/><g transform="translate(559.60 666.00) rotate(-23.3)"><ellipse rx="3.1" ry="2.0" fill="none" stroke="#d98e1e" stroke-width="1.85"/><path d="M -2.5,-1.4 Q 0,-2.8 2.5,-1.4" fill="none" stroke="#fdd865" stroke-width="1.0"/></g><g transform="translate(562.70 662.87) rotate(-68.5)"><ellipse rx="3.1" ry="2.0" fill="none" stroke="#d98e1e" stroke-width="1.85"/><path d="M -2.5,-1.4 Q 0,-2.8 2.5,-1.4" fill="none" stroke="#fdd865" stroke-width="1.0"/></g><g transform="translate(565.65 659.61) rotate(-27.0)"><ellipse rx="3.1" ry="2.0" fill="none" stroke="#d98e1e" stroke-width="1.85"/><path d="M -2.5,-1.4 Q 0,-2.8 2.5,-1.4" fill="none" stroke="#fdd865" stroke-width="1.0"/></g><g transform="translate(568.47 656.24) rotate(-73.3)"><ellipse rx="3.1" ry="2.0" fill="none" stroke="#d98e1e" stroke-width="1.85"/><path d="M -2.5,-1.4 Q 0,-2.8 2.5,-1.4" fill="none" stroke="#fdd865" stroke-width="1.0"/></g><g transform="translate(571.15 652.75) rotate(-31.5)"><ellipse rx="3.1" ry="2.0" fill="none" stroke="#d98e1e" stroke-width="1.85"/><path d="M -2.5,-1.4 Q 0,-2.8 2.5,-1.4" fill="none" stroke="#fdd865" stroke-width="1.0"/></g><g transform="translate(573.70 649.16) rotate(-77.6)"><ellipse rx="3.1" ry="2.0" fill="none" stroke="#d98e1e" stroke-width="1.85"/><path d="M -2.5,-1.4 Q 0,-2.8 2.5,-1.4" fill="none" stroke="#fdd865" stroke-width="1.0"/></g><g transform="translate(576.12 645.49) rotate(-35.5)"><ellipse rx="3.1" ry="2.0" fill="none" stroke="#d98e1e" stroke-width="1.85"/><path d="M -2.5,-1.4 Q 0,-2.8 2.5,-1.4" fill="none" stroke="#fdd865" stroke-width="1.0"/></g><g transform="translate(578.42 641.74) rotate(-80.5)"><ellipse rx="3.1" ry="2.0" fill="none" stroke="#d98e1e" stroke-width="1.85"/><path d="M -2.5,-1.4 Q 0,-2.8 2.5,-1.4" fill="none" stroke="#fdd865" stroke-width="1.0"/></g><path d="M 580,639 C 589,620 597,595 599,566" fill="none" stroke="#e7aa3c" stroke-width="3.0" stroke-linecap="round"/><g transform="translate(580.00 639.00) rotate(-43.3)"><ellipse rx="3.1" ry="2.0" fill="none" stroke="#d98e1e" stroke-width="1.85"/><path d="M -2.5,-1.4 Q 0,-2.8 2.5,-1.4" fill="none" stroke="#fdd865" stroke-width="1.0"/></g><g transform="translate(581.84 635.00) rotate(-88.0)"><ellipse rx="3.1" ry="2.0" fill="none" stroke="#d98e1e" stroke-width="1.85"/><path d="M -2.5,-1.4 Q 0,-2.8 2.5,-1.4" fill="none" stroke="#fdd865" stroke-width="1.0"/></g><g transform="translate(583.59 630.96) rotate(-45.2)"><ellipse rx="3.1" ry="2.0" fill="none" stroke="#d98e1e" stroke-width="1.85"/><path d="M -2.5,-1.4 Q 0,-2.8 2.5,-1.4" fill="none" stroke="#fdd865" stroke-width="1.0"/></g><g transform="translate(585.24 626.89) rotate(-90.5)"><ellipse rx="3.1" ry="2.0" fill="none" stroke="#d98e1e" stroke-width="1.85"/><path d="M -2.5,-1.4 Q 0,-2.8 2.5,-1.4" fill="none" stroke="#fdd865" stroke-width="1.0"/></g><g transform="translate(586.81 622.78) rotate(-47.7)"><ellipse rx="3.1" ry="2.0" fill="none" stroke="#d98e1e" stroke-width="1.85"/><path d="M -2.5,-1.4 Q 0,-2.8 2.5,-1.4" fill="none" stroke="#fdd865" stroke-width="1.0"/></g><g transform="translate(588.29 618.63) rotate(-93.0)"><ellipse rx="3.1" ry="2.0" fill="none" stroke="#d98e1e" stroke-width="1.85"/><path d="M -2.5,-1.4 Q 0,-2.8 2.5,-1.4" fill="none" stroke="#fdd865" stroke-width="1.0"/></g><g transform="translate(589.68 614.46) rotate(-50.2)"><ellipse rx="3.1" ry="2.0" fill="none" stroke="#d98e1e" stroke-width="1.85"/><path d="M -2.5,-1.4 Q 0,-2.8 2.5,-1.4" fill="none" stroke="#fdd865" stroke-width="1.0"/></g><g transform="translate(590.98 610.25) rotate(-95.4)"><ellipse rx="3.1" ry="2.0" fill="none" stroke="#d98e1e" stroke-width="1.85"/><path d="M -2.5,-1.4 Q 0,-2.8 2.5,-1.4" fill="none" stroke="#fdd865" stroke-width="1.0"/></g><g transform="translate(592.19 606.02) rotate(-52.7)"><ellipse rx="3.1" ry="2.0" fill="none" stroke="#d98e1e" stroke-width="1.85"/><path d="M -2.5,-1.4 Q 0,-2.8 2.5,-1.4" fill="none" stroke="#fdd865" stroke-width="1.0"/></g><g transform="translate(593.31 601.77) rotate(-97.9)"><ellipse rx="3.1" ry="2.0" fill="none" stroke="#d98e1e" stroke-width="1.85"/><path d="M -2.5,-1.4 Q 0,-2.8 2.5,-1.4" fill="none" stroke="#fdd865" stroke-width="1.0"/></g><g transform="translate(594.33 597.49) rotate(-55.1)"><ellipse rx="3.1" ry="2.0" fill="none" stroke="#d98e1e" stroke-width="1.85"/><path d="M -2.5,-1.4 Q 0,-2.8 2.5,-1.4" fill="none" stroke="#fdd865" stroke-width="1.0"/></g><g transform="translate(595.27 593.19) rotate(-100.3)"><ellipse rx="3.1" ry="2.0" fill="none" stroke="#d98e1e" stroke-width="1.85"/><path d="M -2.5,-1.4 Q 0,-2.8 2.5,-1.4" fill="none" stroke="#fdd865" stroke-width="1.0"/></g><g transform="translate(596.11 588.87) rotate(-57.6)"><ellipse rx="3.1" ry="2.0" fill="none" stroke="#d98e1e" stroke-width="1.85"/><path d="M -2.5,-1.4 Q 0,-2.8 2.5,-1.4" fill="none" stroke="#fdd865" stroke-width="1.0"/></g><g transform="translate(596.86 584.54) rotate(-102.8)"><ellipse rx="3.1" ry="2.0" fill="none" stroke="#d98e1e" stroke-width="1.85"/><path d="M -2.5,-1.4 Q 0,-2.8 2.5,-1.4" fill="none" stroke="#fdd865" stroke-width="1.0"/></g><g transform="translate(597.52 580.19) rotate(-60.0)"><ellipse rx="3.1" ry="2.0" fill="none" stroke="#d98e1e" stroke-width="1.85"/><path d="M -2.5,-1.4 Q 0,-2.8 2.5,-1.4" fill="none" stroke="#fdd865" stroke-width="1.0"/></g><g transform="translate(598.08 575.82) rotate(-105.3)"><ellipse rx="3.1" ry="2.0" fill="none" stroke="#d98e1e" stroke-width="1.85"/><path d="M -2.5,-1.4 Q 0,-2.8 2.5,-1.4" fill="none" stroke="#fdd865" stroke-width="1.0"/></g><g transform="translate(598.55 571.45) rotate(-62.5)"><ellipse rx="3.1" ry="2.0" fill="none" stroke="#d98e1e" stroke-width="1.85"/><path d="M -2.5,-1.4 Q 0,-2.8 2.5,-1.4" fill="none" stroke="#fdd865" stroke-width="1.0"/></g><g transform="translate(598.92 567.06) rotate(-107.1)"><ellipse rx="3.1" ry="2.0" fill="none" stroke="#d98e1e" stroke-width="1.85"/><path d="M -2.5,-1.4 Q 0,-2.8 2.5,-1.4" fill="none" stroke="#fdd865" stroke-width="1.0"/></g><ellipse cx="580" cy="639" rx="5" ry="3" transform="rotate(30 580 639)" fill="#e8a632" stroke="#c0740e" stroke-width="0.7"/><ellipse cx="579.5" cy="638.2" rx="3" ry="1" transform="rotate(30 580 639)" fill="#fbd870"/><ellipse cx="600" cy="558.5" rx="6.2" ry="6.2" transform="rotate(0 600 558.5)" fill="none" stroke="#de9622" stroke-width="3.3"/><ellipse cx="600" cy="558.5" rx="6.2" ry="6.2" transform="rotate(0 600 558.5)" fill="none" stroke="#c0740e" stroke-width="1.15" stroke-dasharray="5 4"/><ellipse cx="600" cy="558.5" rx="6.2" ry="6.2" transform="rotate(0 600 558.5)" fill="none" stroke="#fad366" stroke-width="0.99" stroke-dasharray="3 7" stroke-dashoffset="2"/><path d="M 600,551 L 602,537 L 601,519 L 598,501 L 590,481" fill="none" stroke="#de9622" stroke-width="2" stroke-linecap="round" stroke-linejoin="round"/><g transform="translate(601.9 537.8) rotate(90)"><rect x="-6.65" y="-7.45" width="13.30" height="14.90" rx="5.97" ry="6.01" fill="#2a2a2a" opacity="0.5"/><rect x="-6.35" y="-7.15" width="12.7" height="14.3" rx="5.84" ry="5.72" fill="#080808"/><ellipse cx="-1.02" cy="-1.9" rx="1.6" ry="0.75" fill="#8c8c8c"/><ellipse cx="-1.02" cy="1.3" rx="1.6" ry="0.75" fill="#7a7a7a"/></g><g transform="translate(600.8 519.7) rotate(88)"><rect x="-6.60" y="-8.05" width="13.20" height="16.10" rx="5.92" ry="6.51" fill="#2a2a2a" opacity="0.5"/><rect x="-6.30" y="-7.75" width="12.6" height="15.5" rx="5.80" ry="6.20" fill="#080808"/><ellipse cx="-1.01" cy="-1.9" rx="1.6" ry="0.75" fill="#8c8c8c"/><ellipse cx="-1.01" cy="1.3" rx="1.6" ry="0.75" fill="#7a7a7a"/></g><g transform="translate(598.6 501) rotate(75)"><rect x="-6.60" y="-7.80" width="13.20" height="15.60" rx="5.92" ry="6.30" fill="#2a2a2a" opacity="0.5"/><rect x="-6.30" y="-7.50" width="12.6" height="15" rx="5.80" ry="6.00" fill="#080808"/><ellipse cx="-1.01" cy="-1.9" rx="1.6" ry="0.75" fill="#8c8c8c"/><ellipse cx="-1.01" cy="1.3" rx="1.6" ry="0.75" fill="#7a7a7a"/></g><g transform="translate(593.4 488) rotate(65)"><rect x="-6.80" y="-7.80" width="13.60" height="15.60" rx="6.11" ry="6.30" fill="#2a2a2a" opacity="0.5"/><rect x="-6.50" y="-7.50" width="13" height="15" rx="5.98" ry="6.00" fill="#080808"/><ellipse cx="-1.04" cy="-1.9" rx="1.6" ry="0.75" fill="#8c8c8c"/><ellipse cx="-1.04" cy="1.3" rx="1.6" ry="0.75" fill="#7a7a7a"/></g><ellipse cx="583.8" cy="473.8" rx="6.4" ry="6.4" transform="rotate(0 583.8 473.8)" fill="none" stroke="#de9622" stroke-width="3.3"/><ellipse cx="583.8" cy="473.8" rx="6.4" ry="6.4" transform="rotate(0 583.8 473.8)" fill="none" stroke="#c0740e" stroke-width="1.15" stroke-dasharray="5 4"/><ellipse cx="583.8" cy="473.8" rx="6.4" ry="6.4" transform="rotate(0 583.8 473.8)" fill="none" stroke="#fad366" stroke-width="0.99" stroke-dasharray="3 7" stroke-dashoffset="2"/><path d="M 577,466.5 Q 553,437 525.3,415.3" fill="none" stroke="#e7aa3c" stroke-width="3.0" stroke-linecap="round"/><g transform="translate(577.00 466.50) rotate(-107.5)"><ellipse rx="3.1" ry="2.0" fill="none" stroke="#d98e1e" stroke-width="1.85"/><path d="M -2.5,-1.4 Q 0,-2.8 2.5,-1.4" fill="none" stroke="#fdd865" stroke-width="1.0"/></g><g transform="translate(574.20 463.10) rotate(-151.8)"><ellipse rx="3.1" ry="2.0" fill="none" stroke="#d98e1e" stroke-width="1.85"/><path d="M -2.5,-1.4 Q 0,-2.8 2.5,-1.4" fill="none" stroke="#fdd865" stroke-width="1.0"/></g><g transform="translate(571.37 459.74) rotate(-108.5)"><ellipse rx="3.1" ry="2.0" fill="none" stroke="#d98e1e" stroke-width="1.85"/><path d="M -2.5,-1.4 Q 0,-2.8 2.5,-1.4" fill="none" stroke="#fdd865" stroke-width="1.0"/></g><g transform="translate(568.49 456.41) rotate(-153.2)"><ellipse rx="3.1" ry="2.0" fill="none" stroke="#d98e1e" stroke-width="1.85"/><path d="M -2.5,-1.4 Q 0,-2.8 2.5,-1.4" fill="none" stroke="#fdd865" stroke-width="1.0"/></g><g transform="translate(565.57 453.12) rotate(-109.9)"><ellipse rx="3.1" ry="2.0" fill="none" stroke="#d98e1e" stroke-width="1.85"/><path d="M -2.5,-1.4 Q 0,-2.8 2.5,-1.4" fill="none" stroke="#fdd865" stroke-width="1.0"/></g><g transform="translate(562.60 449.87) rotate(-154.7)"><ellipse rx="3.1" ry="2.0" fill="none" stroke="#d98e1e" stroke-width="1.85"/><path d="M -2.5,-1.4 Q 0,-2.8 2.5,-1.4" fill="none" stroke="#fdd865" stroke-width="1.0"/></g><g transform="translate(559.60 446.65) rotate(-111.4)"><ellipse rx="3.1" ry="2.0" fill="none" stroke="#d98e1e" stroke-width="1.85"/><path d="M -2.5,-1.4 Q 0,-2.8 2.5,-1.4" fill="none" stroke="#fdd865" stroke-width="1.0"/></g><g transform="translate(556.56 443.48) rotate(-156.2)"><ellipse rx="3.1" ry="2.0" fill="none" stroke="#d98e1e" stroke-width="1.85"/><path d="M -2.5,-1.4 Q 0,-2.8 2.5,-1.4" fill="none" stroke="#fdd865" stroke-width="1.0"/></g><g transform="translate(553.47 440.34) rotate(-112.9)"><ellipse rx="3.1" ry="2.0" fill="none" stroke="#d98e1e" stroke-width="1.85"/><path d="M -2.5,-1.4 Q 0,-2.8 2.5,-1.4" fill="none" stroke="#fdd865" stroke-width="1.0"/></g><g transform="translate(550.34 437.25) rotate(-157.7)"><ellipse rx="3.1" ry="2.0" fill="none" stroke="#d98e1e" stroke-width="1.85"/><path d="M -2.5,-1.4 Q 0,-2.8 2.5,-1.4" fill="none" stroke="#fdd865" stroke-width="1.0"/></g><g transform="translate(547.17 434.20) rotate(-114.5)"><ellipse rx="3.1" ry="2.0" fill="none" stroke="#d98e1e" stroke-width="1.85"/><path d="M -2.5,-1.4 Q 0,-2.8 2.5,-1.4" fill="none" stroke="#fdd865" stroke-width="1.0"/></g><g transform="translate(543.96 431.19) rotate(-159.3)"><ellipse rx="3.1" ry="2.0" fill="none" stroke="#d98e1e" stroke-width="1.85"/><path d="M -2.5,-1.4 Q 0,-2.8 2.5,-1.4" fill="none" stroke="#fdd865" stroke-width="1.0"/></g><g transform="translate(540.70 428.23) rotate(-116.1)"><ellipse rx="3.1" ry="2.0" fill="none" stroke="#d98e1e" stroke-width="1.85"/><path d="M -2.5,-1.4 Q 0,-2.8 2.5,-1.4" fill="none" stroke="#fdd865" stroke-width="1.0"/></g><g transform="translate(537.41 425.31) rotate(-160.9)"><ellipse rx="3.1" ry="2.0" fill="none" stroke="#d98e1e" stroke-width="1.85"/><path d="M -2.5,-1.4 Q 0,-2.8 2.5,-1.4" fill="none" stroke="#fdd865" stroke-width="1.0"/></g><g transform="translate(534.07 422.45) rotate(-117.8)"><ellipse rx="3.1" ry="2.0" fill="none" stroke="#d98e1e" stroke-width="1.85"/><path d="M -2.5,-1.4 Q 0,-2.8 2.5,-1.4" fill="none" stroke="#fdd865" stroke-width="1.0"/></g><g transform="translate(530.69 419.63) rotate(-162.6)"><ellipse rx="3.1" ry="2.0" fill="none" stroke="#d98e1e" stroke-width="1.85"/><path d="M -2.5,-1.4 Q 0,-2.8 2.5,-1.4" fill="none" stroke="#fdd865" stroke-width="1.0"/></g><g transform="translate(527.27 416.86) rotate(-119.0)"><ellipse rx="3.1" ry="2.0" fill="none" stroke="#d98e1e" stroke-width="1.85"/><path d="M -2.5,-1.4 Q 0,-2.8 2.5,-1.4" fill="none" stroke="#fdd865" stroke-width="1.0"/></g><ellipse cx="514" cy="410.3" rx="9" ry="5.8" transform="rotate(22 514 410.3)" fill="none" stroke="#d9921e" stroke-width="1.9"/><ellipse cx="514" cy="410.3" rx="9" ry="5.8" transform="rotate(22 514 410.3)" fill="none" stroke="#f7cb55" stroke-width="0.76" stroke-dasharray="6 5"/><ellipse cx="497" cy="403.5" rx="7" ry="3.6" transform="rotate(35 497 403.5)" fill="none" stroke="#d9921e" stroke-width="1.9"/><ellipse cx="497" cy="403.5" rx="7" ry="3.6" transform="rotate(35 497 403.5)" fill="none" stroke="#f7cb55" stroke-width="0.76" stroke-dasharray="6 5"/><ellipse cx="483" cy="399.5" rx="9" ry="6.2" transform="rotate(30 483 399.5)" fill="none" stroke="#d9921e" stroke-width="1.9"/><ellipse cx="483" cy="399.5" rx="9" ry="6.2" transform="rotate(30 483 399.5)" fill="none" stroke="#f7cb55" stroke-width="0.76" stroke-dasharray="6 5"/><ellipse cx="465" cy="393.8" rx="9" ry="6.4" transform="rotate(12 465 393.8)" fill="none" stroke="#d9921e" stroke-width="1.9"/><ellipse cx="465" cy="393.8" rx="9" ry="6.4" transform="rotate(12 465 393.8)" fill="none" stroke="#f7cb55" stroke-width="0.76" stroke-dasharray="6 5"/><ellipse cx="448" cy="386.5" rx="6.8" ry="3.4" transform="rotate(5 448 386.5)" fill="none" stroke="#d9921e" stroke-width="1.9"/><ellipse cx="448" cy="386.5" rx="6.8" ry="3.4" transform="rotate(5 448 386.5)" fill="none" stroke="#f7cb55" stroke-width="0.76" stroke-dasharray="6 5"/><ellipse cx="433.8" cy="386.6" rx="9" ry="6.0" transform="rotate(-5 433.8 386.6)" fill="none" stroke="#d9921e" stroke-width="1.9"/><ellipse cx="433.8" cy="386.6" rx="9" ry="6.0" transform="rotate(-5 433.8 386.6)" fill="none" stroke="#f7cb55" stroke-width="0.76" stroke-dasharray="6 5"/><ellipse cx="415" cy="388.2" rx="9" ry="6.0" transform="rotate(-10 415 388.2)" fill="none" stroke="#d9921e" stroke-width="1.9"/><ellipse cx="415" cy="388.2" rx="9" ry="6.0" transform="rotate(-10 415 388.2)" fill="none" stroke="#f7cb55" stroke-width="0.76" stroke-dasharray="6 5"/><ellipse cx="398.5" cy="391" rx="9" ry="5.6" transform="rotate(-10 398.5 391)" fill="none" stroke="#d9921e" stroke-width="1.9"/><ellipse cx="398.5" cy="391" rx="9" ry="5.6" transform="rotate(-10 398.5 391)" fill="none" stroke="#f7cb55" stroke-width="0.76" stroke-dasharray="6 5"/><ellipse cx="383.5" cy="392.5" rx="7" ry="6.0" transform="rotate(0 383.5 392.5)" fill="none" stroke="#d9921e" stroke-width="1.9"/><ellipse cx="383.5" cy="392.5" rx="7" ry="6.0" transform="rotate(0 383.5 392.5)" fill="none" stroke="#f7cb55" stroke-width="0.76" stroke-dasharray="6 5"/><ellipse cx="334.5" cy="406.5" rx="6.5" ry="3.6" transform="rotate(-35 334.5 406.5)" fill="none" stroke="#de9622" stroke-width="2.8"/><ellipse cx="334.5" cy="406.5" rx="6.5" ry="3.6" transform="rotate(-35 334.5 406.5)" fill="none" stroke="#c0740e" stroke-width="0.98" stroke-dasharray="5 4"/><ellipse cx="334.5" cy="406.5" rx="6.5" ry="3.6" transform="rotate(-35 334.5 406.5)" fill="none" stroke="#fad366" stroke-width="0.84" stroke-dasharray="3 7" stroke-dashoffset="2"/><ellipse cx="344.5" cy="400.2" rx="5.2" ry="4.2" transform="rotate(-30 344.5 400.2)" fill="none" stroke="#de9622" stroke-width="2.8"/><ellipse cx="344.5" cy="400.2" rx="5.2" ry="4.2" transform="rotate(-30 344.5 400.2)" fill="none" stroke="#c0740e" stroke-width="0.98" stroke-dasharray="5 4"/><ellipse cx="344.5" cy="400.2" rx="5.2" ry="4.2" transform="rotate(-30 344.5 400.2)" fill="none" stroke="#fad366" stroke-width="0.84" stroke-dasharray="3 7" stroke-dashoffset="2"/><ellipse cx="364" cy="394.5" rx="10.6" ry="7.9" fill="none" stroke="#de9622" stroke-width="4.8"/><ellipse cx="364" cy="394.5" rx="12.6" ry="9.9" fill="none" stroke="#c0740e" stroke-width="0.9" stroke-dasharray="14 8" opacity="0.7"/><ellipse cx="364" cy="394.5" rx="10.4" ry="7.7" fill="none" stroke="#fad366" stroke-width="1.1" stroke-dasharray="9 12" stroke-dashoffset="4"/><path d="M 356,382 L 359,388" stroke="#de9622" stroke-width="2.4"/><circle cx="355.6" cy="381.3" r="2.6" fill="#e9ad3a"/><ellipse cx="377.3" cy="725.5" rx="9" ry="6" fill="#f8e2bd"/><ellipse cx="375.7" cy="731.0" rx="11.2" ry="10.5" fill="#f0c77c"/><circle cx="373.3" cy="733.5" r="11.5" fill="#c27818"/><circle cx="373.3" cy="733.5" r="10.4" fill="#e9ab3c"/><circle cx="373.3" cy="733.5" r="9.3" fill="#ece8e4"/><circle cx="372.3" cy="732.0" r="5.5" fill="#f7f5f2"/><circle cx="373.8" cy="734.0" r="1.6" fill="#d8ccd0"/><circle cx="370.8" cy="737.5" r="2.2" fill="#e0dadc"/><ellipse cx="457.09999999999997" cy="725.4" rx="9" ry="6" fill="#f8e2bd"/><ellipse cx="457.74" cy="730.9" rx="11.2" ry="10.5" fill="#f0c77c"/><circle cx="458.7" cy="733.4" r="11.5" fill="#c27818"/><circle cx="458.7" cy="733.4" r="10.4" fill="#e9ab3c"/><circle cx="458.7" cy="733.4" r="9.3" fill="#ece8e4"/><circle cx="457.7" cy="731.9" r="5.5" fill="#f7f5f2"/><circle cx="459.2" cy="733.9" r="1.6" fill="#d8ccd0"/><circle cx="456.2" cy="737.4" r="2.2" fill="#e0dadc"/><path d="M 416.9,716.3 C 413,713 408,712.6 402.6,712.8 C 395.5,713 391.2,717.5 391.2,723.5 C 391.2,736 403,752 415.8,760 C 428.6,752 440.9,736 440.9,724.5 C 440.9,718 436.5,713.2 430.5,713 C 425,712.8 420.5,713.5 416.9,716.3 Z" fill="none" stroke="#d2801a" stroke-width="3.1" stroke-linejoin="round"/><path d="M 416.9,716.3 C 413,713 408,712.6 402.6,712.8 C 395.5,713 391.2,717.5 391.2,723.5 C 391.2,736 403,752 415.8,760 C 428.6,752 440.9,736 440.9,724.5 C 440.9,718 436.5,713.2 430.5,713 C 425,712.8 420.5,713.5 416.9,716.3 Z" fill="none" stroke="#f5c04a" stroke-width="0.9" stroke-linejoin="round" transform="translate(-0.4 -0.5)"/><path d="M 411.5,716.5 Q 417,713.5 422.5,716.5 L 423.5,727 L 410.5,727 Z" fill="#efbb4a"/><ellipse cx="416.5" cy="720" rx="3.5" ry="2" fill="#fbe08a"/><path d="M 415.6,726 C 411,723.5 403,723 400.5,726.5 C 398.5,730.5 400.5,737 405,742.5 C 409,747 412.5,750.5 415.6,753.6 C 418.7,750.5 422.2,747 426.2,742.5 C 430.7,737 432.7,730.5 430.7,726.5 C 428.2,723 420.2,723.5 415.6,726 Z" fill="#e9a83a" stroke="#c47e1c" stroke-width="0.9"/><path d="M 415.6,728.3 C 411.5,726.3 405,726 403.2,728.6 C 401.6,731.8 403.3,736.6 407,741.2 C 410.2,745 413,748 415.6,750.6 C 418.2,748 421,745 424.2,741.2 C 427.9,736.6 429.6,731.8 428,728.6 C 426.2,726 419.7,726.3 415.6,728.3 Z" fill="#0d6a22"/><path d="M 404.5,730 L 412,729 L 409,736 Z" fill="#083f14"/><path d="M 407,736 L 415,733 L 421,739 L 415,747 L 410,742 Z" fill="#17923a"/><path d="M 419,731 L 427,729.5 L 424,737 L 420,735 Z" fill="#3fc25a"/><path d="M 413,737 L 419,738 L 416,744 Z" fill="#24a846"/><path d="M 420,741 L 423,738.5 L 419.5,745 Z" fill="#7ee394"/></g>
</svg>
</body></html>
